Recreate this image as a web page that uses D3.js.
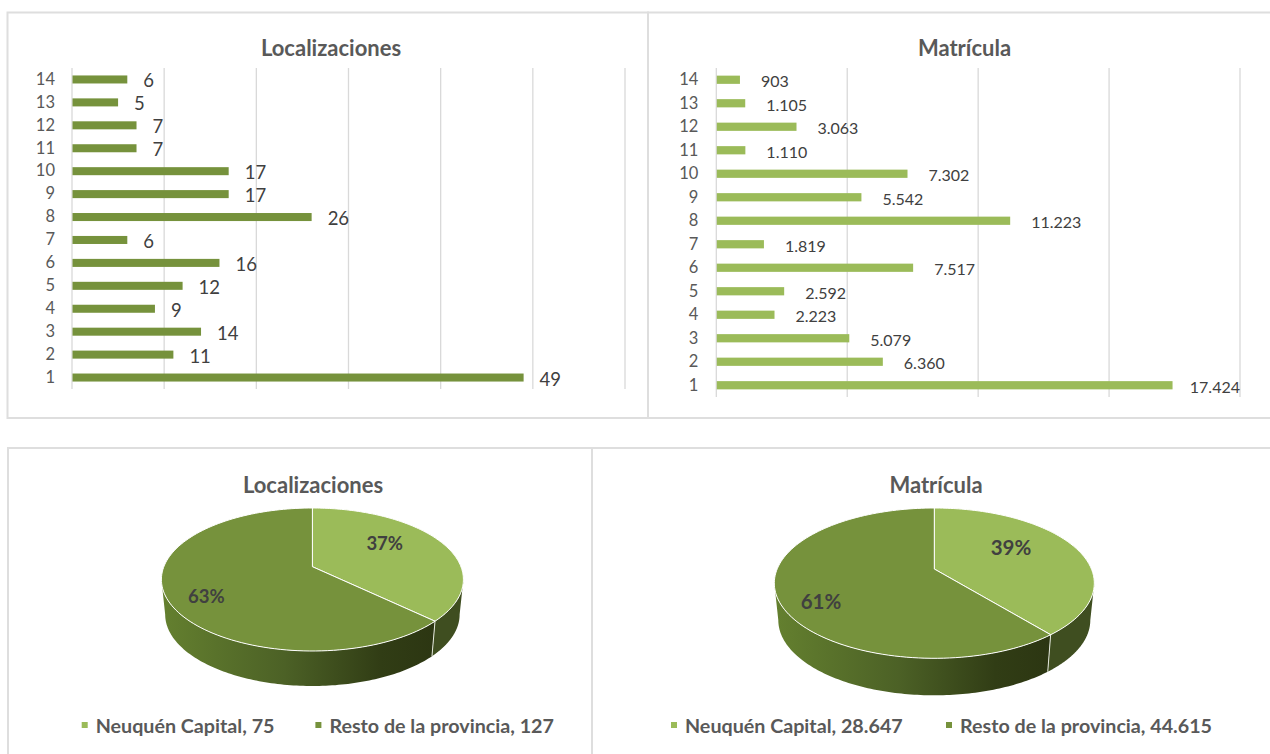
<!DOCTYPE html>
<html>
<head>
<meta charset="utf-8">
<script src="https://cdn.jsdelivr.net/npm/d3@7"></script>
<style>
  html, body { margin: 0; padding: 0; background: #fff; overflow: hidden; }
  text { font-family: Lato, sans-serif; }
</style>
</head>
<body>
<svg id="chart" width="1270" height="754"></svg>
<script>
// Data
const categorias = ["1", "2", "3", "4", "5", "6", "7", "8", "9", "10", "11", "12", "13", "14"];
const localizaciones = [49, 11, 14, 9, 12, 16, 6, 26, 17, 17, 7, 7, 5, 6];
const matricula = [17424, 6360, 5079, 2223, 2592, 7517, 1819, 11223, 5542, 7302, 1110, 3063, 1105, 903];
const zonas = ["Neuquén Capital", "Resto de la provincia"];
const localizacionesZona = [75, 127];
const matriculaZona = [28647, 44615];

const lightGreen = "#9BBB59";
const darkGreen = "#76923C";
const gridColor = "#D9D9D9";
const textColor = "#595959";
const labelColor = "#404040";

const svg = d3.select("#chart");
const defs = svg.append("defs");

// Spanish number format, 17.424
const numFormat = d3.formatLocale({ decimal: ",", thousands: ".", grouping: [3], currency: ["$", ""] }).format(",d");

// Panel frames
const frames = [
  { x: 7.5, y: 12.5, w: 640.5, h: 405.5 },
  { x: 648, y: 12.5, w: 640, h: 405.5 },
  { x: 8, y: 448, w: 584, h: 330 },
  { x: 592, y: 448, w: 700, h: 330 }
];
svg.selectAll("rect.frame")
  .data(frames)
  .enter().append("rect")
  .attr("class", "frame")
  .attr("x", d => d.x)
  .attr("y", d => d.y)
  .attr("width", d => d.w)
  .attr("height", d => d.h)
  .attr("fill", "none")
  .attr("stroke", "#DEDEDE")
  .attr("stroke-width", 2);

function addTitle(text, x, y) {
  svg.append("text")
    .attr("x", x)
    .attr("y", y)
    .attr("text-anchor", "middle")
    .attr("dominant-baseline", "central")
    .attr("font-size", 22)
    .attr("font-weight", 700)
    .attr("fill", textColor)
    .text(text);
}

// Horizontal bar chart
function drawBars(opt) {
  addTitle(opt.title, opt.titleX, 47);

  const x = d3.scaleLinear().domain([0, opt.max]).range([opt.left, opt.right]);
  const y = d3.scaleBand().domain(categorias).range([opt.bottom, opt.top])
    .paddingInner(0.65).paddingOuter(0.325);

  const g = svg.append("g");

  g.selectAll("line.grid")
    .data(d3.range(0, opt.max + 1, opt.step))
    .enter().append("line")
    .attr("class", "grid")
    .attr("x1", d => x(d))
    .attr("x2", d => x(d))
    .attr("y1", opt.top)
    .attr("y2", opt.bottom)
    .attr("stroke", gridColor)
    .attr("stroke-width", 1.3);

  g.selectAll("rect.bar")
    .data(opt.values)
    .enter().append("rect")
    .attr("class", "bar")
    .attr("x", x(0) + 0.5)
    .attr("y", (d, i) => y(categorias[i]))
    .attr("width", d => x(d) - x(0) - 0.5)
    .attr("height", y.bandwidth())
    .attr("fill", opt.color);

  const axis = g.append("g")
    .attr("transform", `translate(${opt.left},0)`)
    .call(d3.axisLeft(y).tickSize(0).tickPadding(opt.tickPad));
  axis.select(".domain").remove();
  axis.selectAll("text")
    .attr("font-size", 16.5)
    .attr("fill", textColor)
    .style("font-family", "Lato, sans-serif");

  g.selectAll("text.val")
    .data(opt.values)
    .enter().append("text")
    .attr("class", "val")
    .attr("x", d => x(d) + opt.labelGap)
    .attr("y", (d, i) => y(categorias[i]) + y.bandwidth() / 2 + 1)
    .attr("dominant-baseline", "central")
    .attr("font-size", opt.labelSize)
    .attr("fill", labelColor)
    .text(d => numFormat(d))
    .each(function() {
      // keep the label inside the plot, the way the long bar does
      const len = this.getComputedTextLength();
      const cur = +this.getAttribute("x");
      if (cur + len > opt.right) this.setAttribute("x", opt.right - len);
    });
}

drawBars({
  title: "Localizaciones", titleX: 331, values: localizaciones, color: darkGreen,
  max: 60, step: 10, left: 72, right: 625, top: 68, bottom: 389,
  tickPad: 17, labelGap: 16, labelSize: 18.5
});
drawBars({
  title: "Matrícula", titleX: 964.5, values: matricula, color: lightGreen,
  max: 20000, step: 5000, left: 716.3, right: 1240, top: 68, bottom: 397,
  tickPad: 18, labelGap: 21, labelSize: 16
});

// Tilted pie: a circle seen in perspective, so the hub sits above the middle of the ellipse
function drawPie(opt, idx) {
  addTitle(opt.title, opt.titleX, 484.7);

  const far = opt.hubY - opt.top;
  const near = opt.front - opt.hubY;
  const k = (far - near) / (far + near);
  const ay = near * (1 + k);
  const ax = opt.rx * Math.sqrt(1 - k * k);

  // angle in radians, clockwise from the top
  const rim = (a, r = 1) => {
    const u = r * Math.sin(a), v = -r * Math.cos(a), den = 1 + k * v;
    return [opt.cx + ax * u / den, opt.hubY + ay * v / den];
  };
  const lower = p => [opt.cx + (p[0] - opt.cx) * 0.975, p[1] + opt.depth];
  const arcPoints = (a0, a1) => d3.range(0, 121).map(i => rim(a0 + (a1 - a0) * i / 120));

  const pie = d3.pie().sort(null)(opt.values);
  const total = d3.sum(opt.values);
  const colors = [lightGreen, darkGreen];

  const gradId = "wall" + idx;
  const grad = defs.append("linearGradient")
    .attr("id", gradId)
    .attr("gradientUnits", "userSpaceOnUse")
    .attr("x1", opt.cx - opt.rx).attr("x2", rim(pie[0].endAngle)[0])
    .attr("y1", 0).attr("y2", 0);
  [[0, "#64802F"], [0.45, "#4C6126"], [0.8, "#313D15"], [1, "#2C3612"]].forEach(s => {
    grad.append("stop").attr("offset", s[0]).attr("stop-color", s[1]);
  });

  const line = d3.line();
  const edge = Math.acos(k);
  const split = pie[0].endAngle;

  // side wall, hidden part is covered by the top
  const wallPath = (a0, a1) => {
    const top = arcPoints(a0, a1);
    return line(top.concat(top.map(lower).reverse())) + "Z";
  };
  svg.append("path").attr("d", wallPath(edge, split)).attr("fill", "#3F4E20");
  svg.append("path").attr("d", wallPath(split, 2 * Math.PI - edge)).attr("fill", `url(#${gradId})`);
  svg.append("path")
    .attr("d", line([rim(split), lower(rim(split))]))
    .attr("stroke", "#E4E8DC")
    .attr("stroke-width", 1)
    .attr("fill", "none");

  // top face
  svg.selectAll(null)
    .data(pie)
    .enter().append("path")
    .attr("d", d => line([[opt.cx, opt.hubY]].concat(arcPoints(d.startAngle, d.endAngle))) + "Z")
    .attr("fill", (d, i) => colors[i])
    .attr("stroke", "#fff")
    .attr("stroke-width", 1)
    .attr("stroke-linejoin", "round");

  // percentages
  svg.selectAll(null)
    .data(pie)
    .enter().append("text")
    .attr("x", (d, i) => opt.pctPos[i][0])
    .attr("y", (d, i) => opt.pctPos[i][1])
    .attr("text-anchor", "middle")
    .attr("dominant-baseline", "central")
    .attr("font-size", opt.pctSize)
    .attr("font-weight", 700)
    .attr("fill", labelColor)
    .text(d => Math.round(d.value / total * 100) + "%");

  // legend
  zonas.forEach((z, i) => {
    svg.append("rect")
      .attr("x", opt.legendX[i] - 14)
      .attr("y", 722)
      .attr("width", 6)
      .attr("height", 6)
      .attr("fill", colors[i]);
    svg.append("text")
      .attr("x", opt.legendX[i])
      .attr("y", 725)
      .attr("dominant-baseline", "central")
      .attr("font-size", opt.legendSize)
      .attr("font-weight", 700)
      .attr("fill", textColor)
      .text(`${z}, ${numFormat(opt.values[i])}`);
  });
}

drawPie({
  title: "Localizaciones", titleX: 313, values: localizacionesZona,
  cx: 312.4, hubY: 566.7, top: 508, front: 651, rx: 151, depth: 35,
  pctPos: [[384.7, 542.7], [206.4, 596]], pctSize: 18.5,
  legendX: [95.7, 329.4], legendSize: 19.7
}, 0);
drawPie({
  title: "Matrícula", titleX: 936, values: matriculaZona,
  cx: 934.3, hubY: 569, top: 508, front: 658.3, rx: 160, depth: 37,
  pctPos: [[1011, 546.7], [821, 600.7]], pctSize: 20.5,
  legendX: [685, 960], legendSize: 19.7
}, 1);
</script>
</body>
</html>
